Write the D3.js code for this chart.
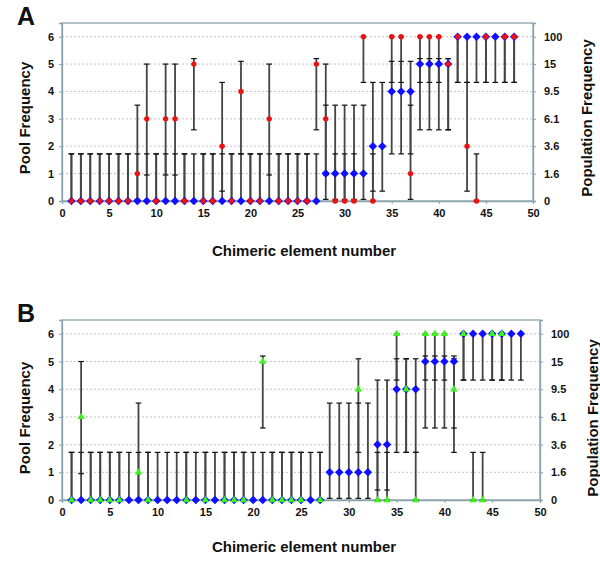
<!DOCTYPE html>
<html><head><meta charset="utf-8">
<script src="https://cdn.jsdelivr.net/npm/d3@7"></script>
<style>body{margin:0;background:#fff;} svg{display:block;font-family:"Liberation Sans",Arial,sans-serif;}</style>
</head><body>
<svg id="chart" width="600" height="561"></svg>
<script>
// ---------- data ----------
const elements = [1,2,3,4,5,6,7,8,9,10,11,12,13,14,15,16,17,18,19,20,21,22,23,24,25,26,27,28,29,30,31,32,33,34,35,36,37,38,39,40,41,42,43,44,45,46,47,48];
const blueValues = [0,0,0,0,0,0,0,0,0,0, 0,0,0,0,0,0,0,0,0,0, 0,0,0,0,0,0,0,1,1,1, 1,1,2,2,4,4,4,5,5,5, 5,6,6,6,6,6,6,6];
const redValues = [0,0,0,0,0,0,0,1,3,0, 3,3,0,5,0,0,2,0,4,0, 0,3,0,0,0,0,5,3,0,0, 0,6,0,null,6,6,1,6,6,6, 5,6,2,0,6,null,6,6];
const greenValues = [0,3,0,0,0,0,null,1,0,null, null,null,0,null,0,null,0,0,0,null, 5,0,0,0,0,null,0,null,null,null, 4,null,0,0,6,4,0,6,6,6, 4,6,0,0,6,6,null,null];
// error bar limits by pool-frequency level 0..6
const errLow  = [0, 0.06, 0.36, 0.95, 1.72, 2.6, 4.33];
const errHigh = [1.72, 3.5, 4.33, 5.0, 5.1, 5.2, 6.0];
const poolTicks = [0,1,2,3,4,5,6];
const popLabels = ["0","1.6","3.6","6.1","9.5","15","100"];
const xTicks = [0,5,10,15,20,25,30,35,40,45,50];

const svg = d3.select("#chart");
const frameColor = "#8aa2ad";

function panel(cfg){
  const g = svg.append("g");
  const x = d3.scaleLinear().domain([0,50]).range([cfg.left, cfg.right]);
  const y = d3.scaleLinear().domain([0,6.5]).range([cfg.bottom, cfg.top]);

  // gridlines
  g.selectAll(".grid").data(poolTicks.slice(1)).join("line")
    .attr("x1", cfg.left).attr("x2", cfg.right)
    .attr("y1", d=>y(d)).attr("y2", d=>y(d))
    .attr("stroke", "#c4c4c4").attr("stroke-width", 1).attr("stroke-dasharray", "2,2");

  // frame
  g.append("rect").attr("x", cfg.left).attr("y", cfg.top)
    .attr("width", cfg.right-cfg.left).attr("height", cfg.bottom-cfg.top)
    .attr("fill", "none").attr("stroke", frameColor).attr("stroke-width", 1.3);

  // axes
  const ax = g.append("g").attr("transform", `translate(0,${cfg.bottom})`)
    .call(d3.axisBottom(x).tickValues(xTicks).tickSize(3).tickPadding(5).tickFormat(d3.format("d")));
  const ay = g.append("g").attr("transform", `translate(${cfg.left},0)`)
    .call(d3.axisLeft(y).tickValues(poolTicks).tickSize(3).tickPadding(5).tickFormat(d3.format("d")));
  const ar = g.append("g").attr("transform", `translate(${cfg.right},0)`)
    .call(d3.axisRight(y).tickValues(poolTicks).tickSize(3).tickPadding(8).tickFormat((d,i)=>popLabels[i]));
  [ax, ay, ar].forEach(a=>{
    a.select(".domain").attr("stroke", frameColor).attr("stroke-width", 1.3);
    a.selectAll(".tick line").attr("stroke", frameColor);
    a.selectAll(".tick text").attr("font-size", 11).attr("font-weight", "bold").attr("fill", "#111");
  });

  // error bars
  const bars = [];
  elements.forEach((e,i)=>{
    const vals = [blueValues[i], cfg.second[i]];
    vals.forEach(v=>{ if(v!==null && v!==undefined) bars.push({e, lo: errLow[v], hi: errHigh[v]}); });
  });
  const eb = g.append("g");
  eb.selectAll("line.v").data(bars).join("line")
    .attr("x1", d=>x(d.e)).attr("x2", d=>x(d.e)).attr("y1", d=>y(d.lo)).attr("y2", d=>y(d.hi))
    .attr("stroke", "#444").attr("stroke-width", 1.8);
  const caps = [];
  bars.forEach(b=>{ caps.push({e:b.e, v:b.lo}); caps.push({e:b.e, v:b.hi}); });
  eb.selectAll("line.c").data(caps).join("line")
    .attr("x1", d=>x(d.e)-2.8).attr("x2", d=>x(d.e)+2.8).attr("y1", d=>y(d.v)).attr("y2", d=>y(d.v))
    .attr("stroke", "#111").attr("stroke-width", 1.2);

  // blue diamonds
  g.append("g").selectAll("path").data(elements).join("path")
    .attr("d", d3.symbol(d3.symbolDiamond2, 46)())
    .attr("transform", (d,i)=>`translate(${x(d)},${y(blueValues[i])})`)
    .attr("fill", "#1010ff");

  // second series
  const pts = elements.map((e,i)=>({e, v: cfg.second[i]})).filter(d=>d.v!==null);
  if(cfg.kind === "circle"){
    g.append("g").selectAll("circle").data(pts).join("circle")
      .attr("cx", d=>x(d.e)).attr("cy", d=>y(d.v)).attr("r", 2.7).attr("fill", "#ee1111");
  } else {
    g.append("g").selectAll("path").data(pts).join("path")
      .attr("d", d3.symbol(d3.symbolTriangle, 24)())
      .attr("transform", d=>`translate(${x(d.e)},${y(d.v)})`)
      .attr("fill", "#3cf21c");
  }

  // titles
  g.append("text").attr("x", 17).attr("y", cfg.top+2).attr("font-size", 25).attr("font-weight", "bold")
    .attr("fill", "#111").text(cfg.label);
  g.append("text").attr("transform", `translate(${cfg.leftTitleX},${cfg.titleY}) rotate(-90)`)
    .attr("text-anchor", "middle").attr("font-size", 15).attr("font-weight", "bold").attr("fill", "#111")
    .text("Pool Frequency");
  g.append("text").attr("transform", `translate(${cfg.rightTitleX},${cfg.titleY}) rotate(-90)`)
    .attr("text-anchor", "middle").attr("font-size", 15).attr("font-weight", "bold").attr("fill", "#111")
    .text("Population Frequency");
  g.append("text").attr("x", 304).attr("y", cfg.xTitleY).attr("text-anchor", "middle")
    .attr("font-size", 15).attr("font-weight", "bold").attr("fill", "#111")
    .text("Chimeric element number");
}

panel({label:"A", left:62, right:533, top:23, bottom:201, second: redValues, kind:"circle",
  leftTitleX:30, rightTitleX:592, titleY:118, xTitleY:256});
panel({label:"B", left:62, right:540, top:320, bottom:500, second: greenValues, kind:"triangle",
  leftTitleX:30, rightTitleX:598, titleY:418, xTitleY:552});
</script>
</body></html>
